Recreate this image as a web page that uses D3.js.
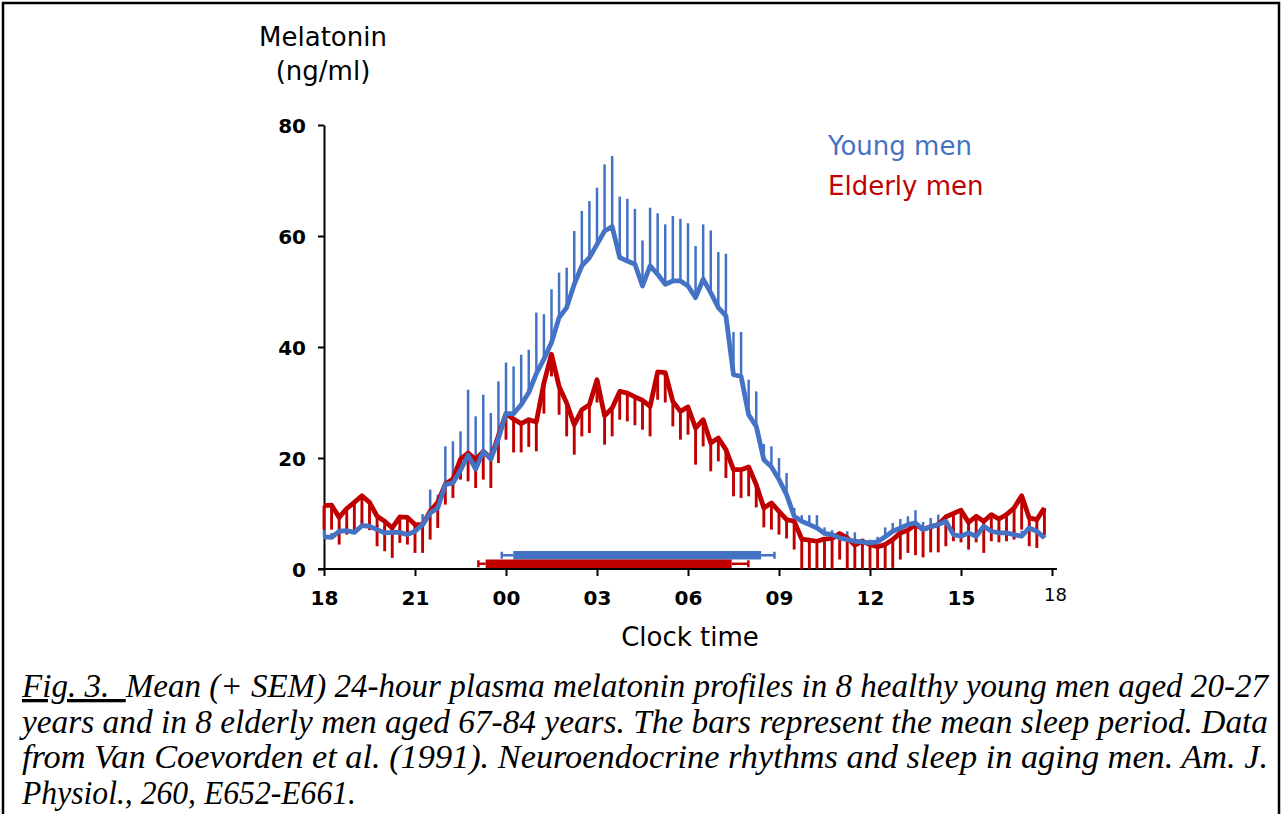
<!DOCTYPE html>
<html>
<head>
<meta charset="utf-8">
<script src="https://cdn.jsdelivr.net/npm/d3@7"></script>
<style>
  html, body { margin: 0; padding: 0; background: #fff; }
  svg { display: block; }
</style>
</head>
<body>
<div id="chart"></div>
<script>
// samples every 15 min, starting at 18:00
var sampleMinutes = 15;

var youngMean = [
  5.8, 5.7, 6.8, 6.9, 6.6, 7.8, 7.7, 7.1, 6.5, 6.6,
  6.6, 6.2, 6.8, 8.0, 10.1, 11.0, 15.2, 15.5, 17.8, 20.5,
  18.0, 21.2, 19.8, 23.5, 28.0, 28.0, 29.6, 31.8, 35.2, 37.8,
  40.8, 45.3, 47.1, 51.3, 54.6, 56.1, 58.5, 60.9, 61.7, 56.1,
  55.5, 54.9, 51.0, 54.6, 53.1, 51.3, 51.9, 51.9, 51.0, 48.9,
  52.2, 49.8, 47.1, 45.6, 35.0, 34.7, 27.8, 25.7, 19.7, 18.4,
  16.1, 13.4, 9.5, 8.6, 8.0, 7.4, 6.4, 6.2, 5.6, 5.3,
  5.0, 4.9, 4.7, 4.9, 5.8, 6.8, 7.4, 8.0, 8.3, 7.1,
  7.6, 8.0, 8.6, 6.2, 5.9, 6.5, 5.9, 7.7, 6.8, 6.5,
  6.5, 6.2, 5.9, 7.4, 6.8, 5.6
];
// mean + SEM
var youngUpper = [
  7.0, 6.5, 8.0, 8.1, 7.5, 9.0, 8.5, 8.0, 7.5, 7.5,
  7.5, 7.0, 8.0, 9.9, 14.3, 13.4, 22.1, 23.0, 24.8, 32.3,
  27.5, 31.4, 28.1, 33.8, 37.2, 36.5, 38.6, 39.5, 46.2, 45.9,
  50.4, 53.4, 54.3, 60.9, 64.5, 66.3, 68.7, 72.9, 74.4, 67.1,
  66.7, 64.9, 59.2, 65.1, 64.1, 62.1, 63.6, 63.1, 62.3, 58.2,
  62.1, 61.0, 57.1, 56.8, 42.7, 42.7, 34.1, 32.0, 22.5, 22.1,
  20.0, 17.3, 11.0, 9.7, 9.7, 9.7, 7.5, 7.0, 6.5, 6.8,
  6.6, 5.5, 5.3, 5.8, 7.5, 8.3, 9.0, 9.5, 10.6, 8.5,
  9.2, 9.8, 9.8, 7.5, 7.0, 7.8, 7.0, 8.5, 7.8, 7.5,
  7.5, 7.2, 6.9, 8.4, 7.8, 6.5
];

var elderlyMean = [
  11.4, 11.5, 9.3, 10.9, 12.0, 13.2, 12.0, 9.5, 8.6, 7.4,
  9.4, 9.3, 8.0, 8.0, 10.4, 12.0, 15.3, 16.2, 19.8, 20.9,
  19.7, 21.2, 20.0, 24.0, 28.0, 27.0, 26.2, 26.9, 26.5, 33.5,
  38.7, 32.9, 29.9, 26.0, 28.7, 29.6, 34.1, 27.6, 29.0, 32.0,
  31.7, 31.0, 30.4, 29.3, 35.5, 35.4, 30.2, 28.4, 29.2, 25.4,
  26.9, 22.7, 23.6, 21.5, 17.9, 17.9, 18.4, 15.2, 11.0, 11.9,
  10.4, 8.9, 8.6, 5.4, 5.2, 5.0, 5.4, 5.5, 6.4, 5.6,
  4.3, 5.0, 4.4, 4.0, 4.4, 5.3, 6.5, 7.0, 8.0, 7.1,
  7.6, 8.0, 9.4, 10.0, 10.6, 8.4, 9.5, 8.6, 9.8, 9.0,
  9.8, 11.0, 13.2, 9.2, 8.9, 11.0
];
// mean - SEM (cut at the axis)
var elderlyLower = [
  7.1, 7.1, 4.4, 6.2, 7.0, 8.0, 7.0, 4.1, 3.2, 2.0,
  4.7, 4.4, 2.9, 2.9, 5.3, 7.4, 11.6, 12.8, 16.1, 15.8,
  14.6, 16.1, 14.6, 19.1, 23.3, 21.0, 21.0, 22.0, 21.2, 28.0,
  34.7, 27.8, 23.9, 20.6, 23.9, 24.5, 30.0, 22.4, 23.9, 26.9,
  26.6, 25.9, 25.1, 23.9, 30.5, 30.0, 25.7, 23.3, 24.2, 18.8,
  22.1, 17.6, 19.4, 16.4, 13.1, 12.8, 13.1, 11.1, 7.5, 7.1,
  6.2, 5.5, 3.5, 0, 0, 0, 0, 0, 1.7, 0,
  0, 0, 0, 0, 0, 0.2, 1.7, 2.9, 2.5, 2.1,
  3.0, 3.0, 4.1, 5.0, 4.8, 3.5, 4.8, 2.9, 5.0, 4.8,
  5.0, 5.3, 7.1, 4.1, 3.8, 6.2
];

// sleep period, hours after 18:00
var groups = ["Young men", "Elderly men"];
var sleepOnset = [6.24, 5.33];
var sleepOffset = [14.41, 13.44];
var onsetSem = [0.38, 0.24];
var offsetSem = [0.44, 0.55];

var xTickHours = [0, 3, 6, 9, 12, 15, 18, 21, 24];
var xTickLabels = ["18", "21", "00", "03", "06", "09", "12", "15", "18"];
var yTicks = [0, 20, 40, 60, 80];

var captionLines = [
  "Mean (+ SEM) 24-hour plasma melatonin profiles in 8 healthy young men aged 20-27",
  "years and in 8 elderly men aged 67-84 years. The bars represent the mean sleep period. Data",
  "from Van Coevorden et al. (1991). Neuroendocrine rhythms and sleep in aging men. Am. J.",
  "Physiol., 260, E652-E661."
];

var blue = "#4472c4",
  red = "#c00000";

var width = 1284,
  height = 814;

var svg = d3
  .select("#chart")
  .append("svg")
  .attr("width", width)
  .attr("height", height);

// frame (bottom is cut off in the original)
svg
  .append("path")
  .attr("d", "M3,814 V3 H1279 V814")
  .attr("fill", "none")
  .attr("stroke", "#000")
  .attr("stroke-width", 2.5);

var xScale = d3.scaleLinear().domain([0, 24]).range([324, 1052]);
var yScale = d3.scaleLinear().domain([0, 80]).range([569, 125]);

var young = youngMean.map(function(v, i) {
  return { t: (i * sampleMinutes) / 60, mean: v, end: youngUpper[i] };
});
var elderly = elderlyMean.map(function(v, i) {
  return { t: (i * sampleMinutes) / 60, mean: v, end: Math.max(0, elderlyLower[i]) };
});

// axes
var yAxis = d3
  .axisLeft(yScale)
  .tickValues(yTicks)
  .tickSize(6)
  .tickPadding(12)
  .tickSizeOuter(0);

var xAxis = d3
  .axisBottom(xScale)
  .tickValues(xTickHours)
  .tickSize(7)
  .tickPadding(15)
  .tickSizeOuter(0)
  .tickFormat(function(d, i) {
    return xTickLabels[i];
  });

var gx = svg
  .append("g")
  .attr("class", "x-axis")
  .attr("transform", "translate(0," + yScale(0) + ")")
  .call(xAxis);
gx.select(".domain").attr("d", "M318,0H1057");

var gy = svg
  .append("g")
  .attr("class", "y-axis")
  .attr("transform", "translate(" + xScale(0) + ",0)")
  .call(yAxis);

svg.selectAll(".x-axis path, .x-axis line, .y-axis path, .y-axis line")
  .attr("stroke", "#000")
  .attr("stroke-width", 2);
svg.selectAll(".x-axis text, .y-axis text")
  .attr("fill", "#000")
  .style("font-family", "'DejaVu Sans', sans-serif")
  .style("font-size", "20px")
  .style("font-weight", "bold");
gy.selectAll("text").attr("dy", "0.36em");
gx.selectAll("text")
  .attr("dy", "0.71em")
  .filter(function(d, i) {
    return i === xTickHours.length - 1;
  })
  .style("font-weight", "normal")
  .style("font-size", "18px")
  .attr("dy", "0.55em")
  .attr("x", 3);

// error bars
function errorBars(data, color, w, cls) {
  svg
    .append("g")
    .attr("class", cls)
    .selectAll("line")
    .data(data)
    .enter()
    .append("line")
    .attr("x1", function(d) { return xScale(d.t); })
    .attr("x2", function(d) { return xScale(d.t); })
    .attr("y1", function(d) { return yScale(d.mean); })
    .attr("y2", function(d) { return yScale(d.end); })
    .attr("stroke", color)
    .attr("stroke-width", w);
}
errorBars(young, blue, 2.5, "young-sem");
errorBars(elderly, red, 2.9, "elderly-sem");

var line = d3
  .line()
  .x(function(d) { return xScale(d.t); })
  .y(function(d) { return yScale(d.mean); });

svg
  .append("path")
  .datum(elderly)
  .attr("d", line)
  .attr("fill", "none")
  .attr("stroke", red)
  .attr("stroke-width", 4.8)
  .attr("stroke-linejoin", "round");

svg
  .append("path")
  .datum(young)
  .attr("d", line)
  .attr("fill", "none")
  .attr("stroke", blue)
  .attr("stroke-width", 4.8)
  .attr("stroke-linejoin", "round");

// sleep period bars
var barY = d3.scaleBand().domain(groups).range([551, 568]).padding(0);
var barColors = [blue, red];

var sleep = svg.append("g").attr("class", "sleep");
groups.forEach(function(g, i) {
  var y0 = barY(g),
    bh = barY.bandwidth(),
    cy = y0 + bh / 2;
  var x0 = xScale(sleepOnset[i]),
    x1 = xScale(sleepOffset[i]),
    w0 = xScale(sleepOnset[i] - onsetSem[i]),
    w1 = xScale(sleepOffset[i] + offsetSem[i]);
  sleep.append("line")
    .attr("x1", w0).attr("x2", x0).attr("y1", cy).attr("y2", cy)
    .attr("stroke", barColors[i]).attr("stroke-width", 2.5);
  sleep.append("line")
    .attr("x1", x1).attr("x2", w1).attr("y1", cy).attr("y2", cy)
    .attr("stroke", barColors[i]).attr("stroke-width", 2.5);
  [w0, w1].forEach(function(xx) {
    sleep.append("line")
      .attr("x1", xx).attr("x2", xx).attr("y1", cy - 3.5).attr("y2", cy + 3.5)
      .attr("stroke", barColors[i]).attr("stroke-width", 2.5);
  });
  sleep.append("rect")
    .attr("x", x0)
    .attr("y", y0)
    .attr("width", x1 - x0)
    .attr("height", bh)
    .attr("fill", barColors[i]);
});

// labels
var labelFont = "'DejaVu Sans', sans-serif";
svg.append("text")
  .attr("x", 323).attr("y", 46)
  .attr("text-anchor", "middle")
  .style("font-family", labelFont).style("font-size", "26px")
  .text("Melatonin");
svg.append("text")
  .attr("x", 323).attr("y", 80)
  .attr("text-anchor", "middle")
  .style("font-family", labelFont).style("font-size", "26px")
  .text("(ng/ml)");
svg.append("text")
  .attr("x", 690).attr("y", 646)
  .attr("text-anchor", "middle")
  .style("font-family", labelFont).style("font-size", "26px")
  .text("Clock time");

// legend
svg.selectAll(".legend")
  .data(groups)
  .enter()
  .append("text")
  .attr("class", "legend")
  .attr("x", 828)
  .attr("y", function(d, i) { return 155 + i * 40; })
  .attr("fill", function(d, i) { return barColors[i]; })
  .style("font-family", labelFont)
  .style("font-size", "26px")
  .text(function(d) { return d; });

// caption
var capWidths = [1246, 1246, 1246, 334];
var caption = svg.append("g").attr("class", "caption");
captionLines.forEach(function(txt, i) {
  var t = caption.append("text")
    .attr("x", 22)
    .attr("y", 697 + i * 35.5)
    .attr("textLength", capWidths[i])
    .attr("lengthAdjust", "spacingAndGlyphs")
    .style("font-family", "'Liberation Serif', 'Times New Roman', serif")
    .style("font-style", "italic")
    .style("font-size", "33px")
    .style("white-space", "pre");
  if (i === 0) {
    t.append("tspan")
      .style("text-decoration", "underline")
      .text("Fig. 3.  ");
  }
  t.append("tspan").text(txt);
});
</script>
</body>
</html>
